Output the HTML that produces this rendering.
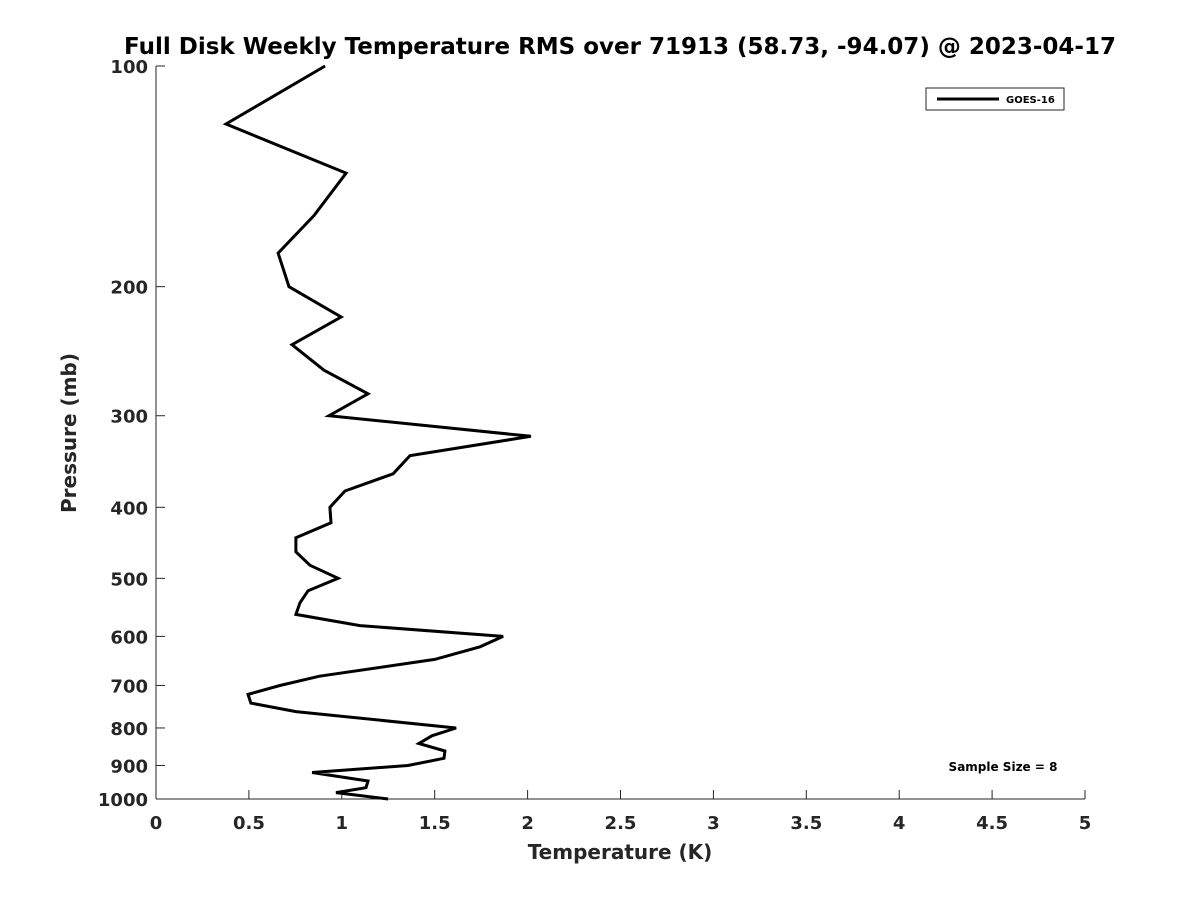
<!DOCTYPE html>
<html><head><meta charset="utf-8"><style>
body{margin:0;background:#fff}
svg text{font-family:"DejaVu Sans","Liberation Sans",sans-serif;font-weight:bold;fill:#262626}
</style></head><body>
<svg id="chart" width="1200" height="900" xmlns="http://www.w3.org/2000/svg">
<rect width="1200" height="900" fill="#fff"/>
<text x="620" y="54" text-anchor="middle" font-size="23" style="fill:#000">Full Disk Weekly Temperature RMS over 71913 (58.73, -94.07) @ 2023-04-17</text>
<g id="axes"></g>
<text x="620" y="859" text-anchor="middle" font-size="20">Temperature (K)</text>
<text transform="translate(76,433) rotate(-90)" text-anchor="middle" font-size="20">Pressure (mb)</text>
<g>
<rect x="926" y="88" width="138" height="22" fill="#fff" stroke="#262626" stroke-width="1"/>
<line x1="937" y1="99" x2="999" y2="99" stroke="#000" stroke-width="3"/>
<text x="1006" y="103" font-size="10" style="fill:#000">GOES-16</text>
</g>
<text x="1003" y="771" text-anchor="middle" font-size="12" style="fill:#000">Sample Size = 8</text>
</svg>
<script>
const xTicks=[0,0.5,1,1.5,2,2.5,3,3.5,4,4.5,5];
const yTicks=[100,200,300,400,500,600,700,800,900,1000];
const pressures=[100,120,140,160,180,200,220,240,260,280,300,320,340,360,380,400,420,440,460,480,500,520,540,560,580,600,620,645,680,700,720,740,760,800,820,840,860,880,900,920,945,965,980,1000];
const rmsValues=[0.91,0.377,1.023,0.85,0.657,0.716,0.996,0.732,0.904,1.141,0.931,2.018,1.367,1.276,1.017,0.936,0.942,0.753,0.753,0.829,0.98,0.818,0.775,0.753,1.098,1.868,1.744,1.50,0.88,0.667,0.495,0.511,0.753,1.615,1.485,1.415,1.555,1.55,1.356,0.84,1.141,1.13,0.969,1.249];
const X0=156,X1=1085,Y0=66,Y1=799;
const xs=v=>X0+(v-0)/(5-0)*(X1-X0);
const ys=p=>Y0+(Math.log10(p)-2)/(3-2)*(Y1-Y0);
const NS="http://www.w3.org/2000/svg";
const svg=document.getElementById('chart'),ax=document.getElementById('axes');
function mk(t,a,parent){const e=document.createElementNS(NS,t);for(const k in a)e.setAttribute(k,a[k]);(parent||ax).appendChild(e);return e;}
const xl=mk('line',{x1:X0,y1:Y1,x2:X1,y2:Y1,stroke:'#262626','stroke-width':1});


const yl=mk('line',{x1:X0,y1:Y0,x2:X0,y2:Y1,stroke:'#262626','stroke-width':1});


xTicks.forEach(v=>{
 const t=mk('line',{x1:xs(v),y1:Y1,x2:xs(v),y2:Y1-9,stroke:'#262626'});
 
 
 const l=mk('text',{x:xs(v),y:Y1+30,'text-anchor':'middle','font-size':18});
 l.textContent=String(v);
 
 
});
yTicks.forEach(p=>{
 const t=mk('line',{x1:X0,y1:ys(p),x2:X0+9,y2:ys(p),stroke:'#262626'});
 
 
 const l=mk('text',{x:X0-8,y:ys(p)+7,'text-anchor':'end','font-size':18});
 l.textContent=String(p);
 
 
});
const pts=pressures.map((p,i)=>xs(rmsValues[i]).toFixed(1)+','+ys(p).toFixed(1)).join(' ');
const line=mk('polyline',{points:pts,fill:'none',stroke:'#000','stroke-width':3,'stroke-linejoin':'miter'},svg);


</script>
</body></html>
